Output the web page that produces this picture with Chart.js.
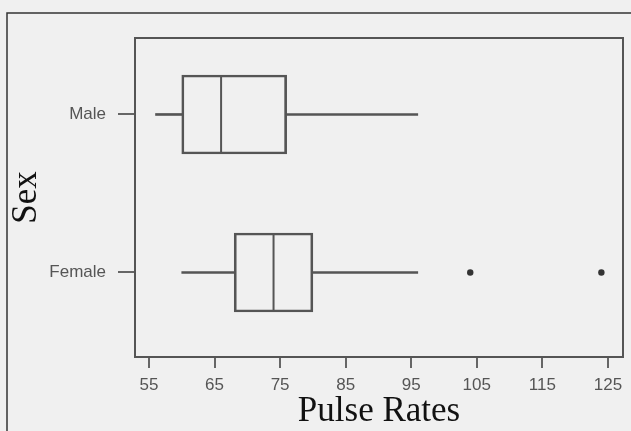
<!DOCTYPE html>
<html>
<head>
<meta charset="utf-8">
<script src="https://cdn.jsdelivr.net/npm/chart.js@4/dist/chart.umd.min.js"></script>
<style>
  html, body { margin: 0; padding: 0; background: #f0f0f0; }
  #chart { display: block; }
</style>
</head>
<body>
<canvas id="chart" width="631" height="431"></canvas>
<script>
  // five-number summaries per group
  const sexes = ["Male", "Female"];
  const mins = [56, 60];
  const q1s = [60, 68];
  const medians = [66, 74];
  const q3s = [76, 80];
  const maxes = [96, 96];
  const outlierValues = [104, 124];
  const outlierGroups = ["Female", "Female"];
  const xTicks = [55, 65, 75, 85, 95, 105, 115, 125];

  const lineColor = "#555";

  const framePlugin = {
    id: "frame",
    beforeDraw(chart) {
      const { ctx, width, height } = chart;
      ctx.save();
      ctx.strokeStyle = "#333";
      ctx.lineWidth = 1.5;
      ctx.beginPath();
      ctx.moveTo(7, height);
      ctx.lineTo(7, 13);
      ctx.lineTo(width, 13);
      ctx.stroke();
      ctx.restore();
    },
    afterDatasetsDraw(chart) {
      const { ctx, chartArea: a } = chart;
      ctx.save();
      ctx.strokeStyle = lineColor;
      ctx.lineWidth = 2;
      ctx.strokeRect(a.left, a.top, a.right - a.left, a.bottom - a.top);
      ctx.restore();
    }
  };

  const rows = (fn) => sexes.map((name, i) => fn(i));

  new Chart(document.getElementById("chart"), {
    type: "bar",
    data: {
      datasets: [
        { label: "low whisker", data: rows((i) => ({ x: [mins[i], q1s[i]], y: i })), backgroundColor: lineColor, borderWidth: 0, barThickness: 2 },
        { label: "high whisker", data: rows((i) => ({ x: [q3s[i], maxes[i]], y: i })), backgroundColor: lineColor, borderWidth: 0, barThickness: 2 },
        { label: "box", data: rows((i) => ({ x: [q1s[i], q3s[i]], y: i })), backgroundColor: "rgba(0,0,0,0)", borderColor: lineColor, borderWidth: 2, borderSkipped: false, barThickness: 79 },
        { type: "scatter", label: "median", data: rows((i) => ({ x: medians[i], y: i })), pointStyle: "line", rotation: 90, radius: 39.5, borderColor: lineColor, borderWidth: 2 },
        { type: "scatter", label: "outliers", data: outlierValues.map((v, i) => ({ x: v, y: sexes.indexOf(outlierGroups[i]) })), pointRadius: 3.2, backgroundColor: "#333", borderWidth: 0 }
      ]
    },
    options: {
      indexAxis: "y",
      responsive: false,
      animation: false,
      devicePixelRatio: 1,
      layout: { autoPadding: false, padding: { top: 38, right: 8, left: 0, bottom: 0 } },
      plugins: { legend: { display: false }, tooltip: { enabled: false } },
      datasets: { bar: { grouped: false } },
      scales: {
        x: {
          type: "linear",
          min: 52.87,
          max: 127.3,
          afterBuildTicks: (scale) => { scale.ticks = xTicks.map((v) => ({ value: v })); },
          afterFit: (scale) => { scale.height = 74; },
          grid: { drawOnChartArea: false, drawTicks: true, tickLength: 11, color: "#666", lineWidth: 2 },
          border: { display: false },
          ticks: { color: "#555", padding: 7, font: { family: "'Liberation Sans', Arial, sans-serif", size: 17 } },
          title: { display: true, text: "Pulse Rates", color: "#111", padding: { top: 0, bottom: 1.5 }, font: { family: "'Liberation Serif', 'Times New Roman', serif", size: 35, lineHeight: 1 } }
        },
        y: {
          type: "linear",
          reverse: true,
          offset: false,
          min: -0.484,
          max: 1.535,
          afterBuildTicks: (scale) => { scale.ticks = sexes.map((name, i) => ({ value: i })); },
          afterFit: (scale) => { scale.width = 135; },
          grid: { offset: false, drawOnChartArea: false, drawTicks: true, tickLength: 17, color: "#666", lineWidth: 2 },
          border: { display: false },
          ticks: { color: "#555", padding: 12, callback: (value) => sexes[value], font: { family: "'Liberation Sans', Arial, sans-serif", size: 17 } },
          title: { display: true, text: "Sex", color: "#111", padding: { top: 9, bottom: 0 }, font: { family: "'Liberation Serif', 'Times New Roman', serif", size: 35, lineHeight: 1 } }
        }
      }
    },
    plugins: [framePlugin]
  });
</script>
</body>
</html>
